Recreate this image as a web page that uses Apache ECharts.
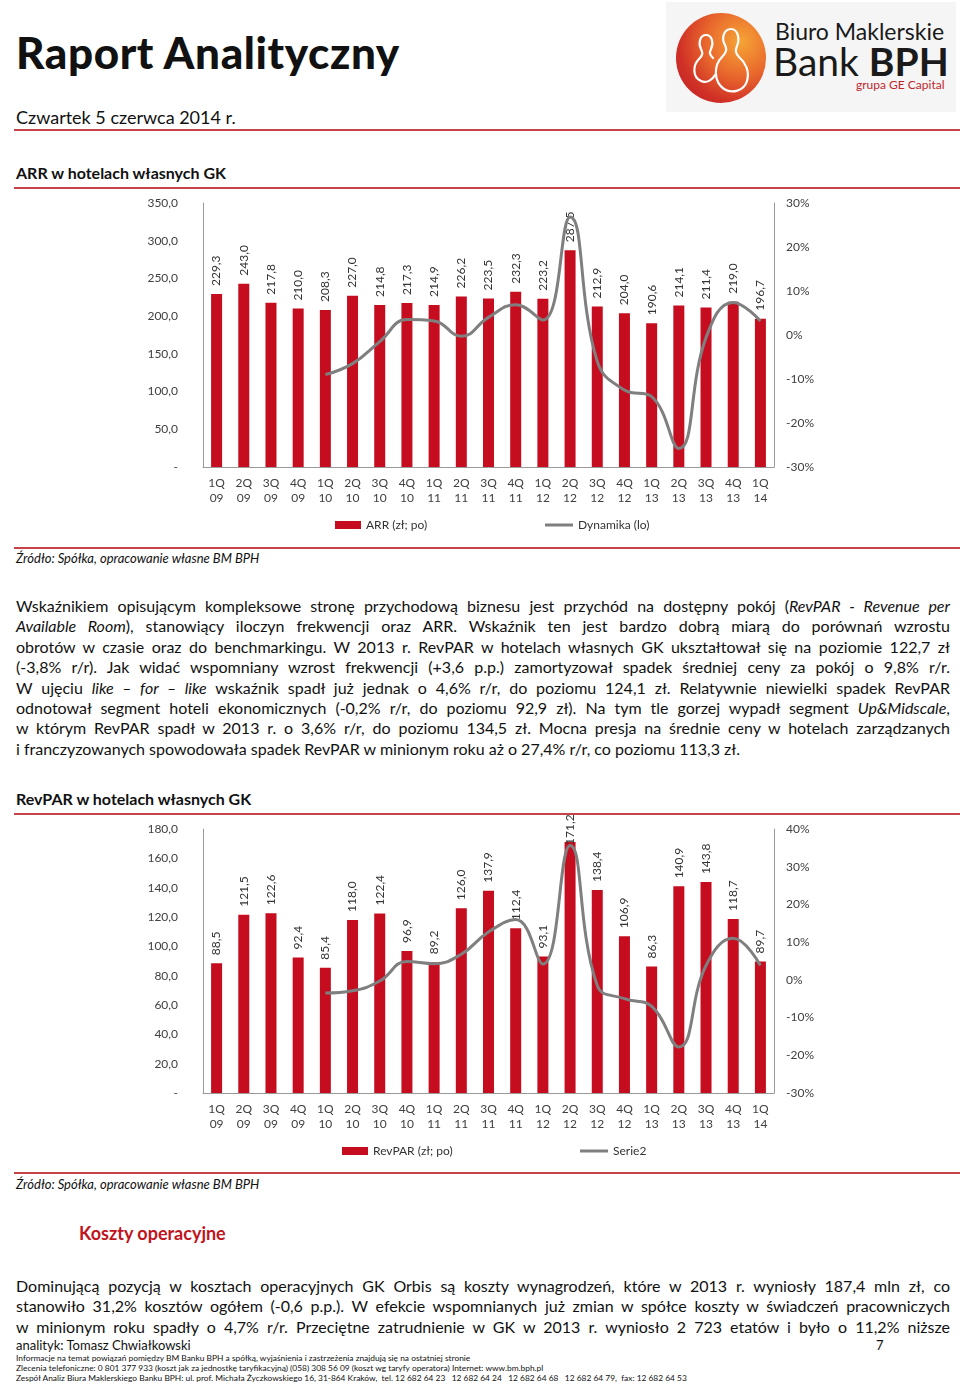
<!DOCTYPE html>
<html lang="pl">
<head>
<meta charset="utf-8">
<script src="https://cdn.jsdelivr.net/npm/echarts@6/dist/echarts.min.js"></script>
<style>
  html, body { margin:0; padding:0; background:#fff; }
  body { width:960px; height:1385px; position:relative; overflow:hidden; font-family: Lato, "Noto Sans", sans-serif; color:#111; }
  .abs { position:absolute; white-space:nowrap; }
  .rule { position:absolute; left:14px; right:0; height:2px; background:#c8424a; }
  .jl { display:block; text-align:justify; text-align-last:justify; white-space:nowrap; }
  .ll { display:block; text-align:left; white-space:nowrap; }
  .para { position:absolute; left:16px; width:934px; font-size:16px; line-height:20.4px; color:#111; }
  .foot { position:absolute; left:16px; font-size:8.4px; line-height:10px; white-space:nowrap; }
</style>
</head>
<body>
<!-- header -->
<div class="abs" style="left:16px; top:25px; font-size:44px; line-height:54px; font-weight:900; color:#111; letter-spacing:0.6px;">Raport Analityczny</div>
<div class="abs" style="left:16px; top:105px; font-size:18px; line-height:24px; color:#111;">Czwartek 5 czerwca 2014 r.</div>
<div class="rule" style="top:129px;"></div>

<!-- logo -->
<div class="abs" style="left:666px; top:2px; width:290px; height:110px; background:#f5f5f5;"></div>
<div class="abs" style="left:676px; top:13px; width:90px; height:90px; border-radius:50%; background: radial-gradient(circle at 72% 32%, #f6a536 0%, #e8662c 40%, #cf2f26 70%, #b71f22 100%);"></div>
<svg class="abs" style="left:676px; top:13px;" width="90" height="90" viewBox="0 0 90 90">
  <path d="M30 22 c-6 0 -8 8 -5 14 c2 4 2 6 -2 10 c-6 6 -7 18 2 22 c6 3 12 -2 14 -6" fill="none" stroke="#fff" stroke-width="2.2" stroke-linecap="round"/>
  <path d="M30 22 c6 0 8 8 5 14 c-2 4 -1 6 2 9" fill="none" stroke="#fff" stroke-width="2.2" stroke-linecap="round"/>
  <path d="M55 16 c-7 0 -10 9 -6 16 c2 4 2 7 -3 12 c-8 8 -9 24 2 32 c8 5 20 2 23 -8 c3 -10 -2 -19 -8 -24 c-4 -4 -4 -7 -2 -11 c3 -7 1 -17 -6 -17 z" fill="none" stroke="#fff" stroke-width="2.2" stroke-linejoin="round"/>
</svg>
<div class="abs" style="left:775px; top:17px; font-size:23px; line-height:28px; color:#1a1a1a;">Biuro Maklerskie</div>
<div class="abs" style="left:773px; top:38px; font-size:39px; line-height:46px; color:#1a1a1a;">Bank <b>BPH</b></div>
<div class="abs" style="left:856px; top:77px; font-size:12px; line-height:15px; color:#c0272d;">grupa GE Capital</div>

<!-- chart 1 -->
<div class="abs" style="left:16px; top:163px; font-size:16px; line-height:20px; font-weight:700;">ARR w hotelach własnych GK</div>
<div class="rule" style="top:187px;"></div>
<div id="chart1" class="abs" style="left:0; top:189px; width:960px; height:358px;"></div>
<div class="rule" style="top:547px;"></div>
<div class="abs" style="left:16px; top:549px; font-size:13px; line-height:18px; font-style:italic;">Źródło: Spółka, opracowanie własne BM BPH</div>

<!-- paragraph 1 -->
<div class="para" style="top:596px;">
  <span class="jl">Wskaźnikiem opisującym kompleksowe stronę przychodową biznesu jest przychód na dostępny pokój (<i>RevPAR - Revenue per</i></span>
  <span class="jl"><i>Available Room</i>), stanowiący iloczyn frekwencji oraz ARR. Wskaźnik ten jest bardzo dobrą miarą do porównań wzrostu</span>
  <span class="jl">obrotów w czasie oraz do benchmarkingu. W 2013 r. RevPAR w hotelach własnych GK ukształtował się na poziomie 122,7 zł</span>
  <span class="jl">(-3,8% r/r). Jak widać wspomniany wzrost frekwencji (+3,6 p.p.) zamortyzował spadek średniej ceny za pokój o 9,8% r/r.</span>
  <span class="jl">W ujęciu <i>like – for – like</i> wskaźnik spadł już jednak o 4,6% r/r, do poziomu 124,1 zł. Relatywnie niewielki spadek RevPAR</span>
  <span class="jl">odnotował segment hoteli ekonomicznych (-0,2% r/r, do poziomu 92,9 zł). Na tym tle gorzej wypadł segment <i>Up&amp;Midscale</i>,</span>
  <span class="jl">w którym RevPAR spadł w 2013 r. o 3,6% r/r, do poziomu 134,5 zł. Mocna presja na średnie ceny w hotelach zarządzanych</span>
  <span class="ll">i franczyzowanych spowodowała spadek RevPAR w minionym roku aż o 27,4% r/r, co poziomu 113,3 zł.</span>
</div>

<!-- chart 2 -->
<div class="abs" style="left:16px; top:789px; font-size:16px; line-height:20px; font-weight:700;">RevPAR w hotelach własnych GK</div>
<div class="rule" style="top:813px;"></div>
<div id="chart2" class="abs" style="left:0; top:815px; width:960px; height:357px;"></div>
<div class="rule" style="top:1172px;"></div>
<div class="abs" style="left:16px; top:1175px; font-size:13px; line-height:18px; font-style:italic;">Źródło: Spółka, opracowanie własne BM BPH</div>

<div class="abs" style="left:79px; top:1221px; font-size:18px; line-height:24px; font-weight:700; color:#c0141e;">Koszty operacyjne</div>

<div class="para" style="top:1276px;">
  <span class="jl">Dominującą pozycją w kosztach operacyjnych GK Orbis są koszty wynagrodzeń, które w 2013 r. wyniosły 187,4 mln zł, co</span>
  <span class="jl">stanowiło 31,2% kosztów ogółem (-0,6 p.p.). W efekcie wspomnianych już zmian w spółce koszty w świadczeń pracowniczych</span>
  <span class="jl">w minionym roku spadły o 4,7% r/r. Przeciętne zatrudnienie w GK w 2013 r. wyniosło 2 723 etatów i było o 11,2% niższe</span>
</div>

<div class="abs" style="left:16px; top:1337px; font-size:13px; line-height:16px;">analityk: Tomasz Chwiałkowski</div>
<div class="abs" style="left:876px; top:1337px; font-size:13px; line-height:16px;">7</div>
<div class="foot" style="top:1353px;">Informacje na temat powiązań pomiędzy BM Banku BPH a spółką, wyjaśnienia i zastrzeżenia znajdują się na ostatniej stronie</div>
<div class="foot" style="top:1363px;">Zlecenia telefoniczne: 0 801 377 933 (koszt jak za jednostkę taryfikacyjną) (058) 308 56 09 (koszt wg taryfy operatora) Internet: www.bm.bph.pl</div>
<div class="foot" style="top:1373px;">Zespół Analiz Biura Maklerskiego Banku BPH: ul. prof. Michała Życzkowskiego 16, 31-864 Kraków, &nbsp;tel. 12 682 64 23&nbsp;&nbsp; 12 682 64 24&nbsp;&nbsp; 12 682 64 68&nbsp;&nbsp; 12 682 64 79, &nbsp;fax: 12 682 64 53</div>

<script>
// ---- data ----
const categories = ['1Q\n09','2Q\n09','3Q\n09','4Q\n09','1Q\n10','2Q\n10','3Q\n10','4Q\n10','1Q\n11','2Q\n11','3Q\n11','4Q\n11','1Q\n12','2Q\n12','3Q\n12','4Q\n12','1Q\n13','2Q\n13','3Q\n13','4Q\n13','1Q\n14'];
const arrValues = [229.3, 243.0, 217.8, 210.0, 208.3, 227.0, 214.8, 217.3, 214.9, 226.2, 223.5, 232.3, 223.2, 287.5, 212.9, 204.0, 190.6, 214.1, 211.4, 219.0, 196.7];
const arrDynamics = [null, null, null, null, -9.0, -6.5, -1.5, 3.5, 3.2, -0.3, 4.0, 6.9, 3.4, 26.8, -6.0, -12.5, -14.0, -25.8, -0.6, 7.4, 3.2];
const revparValues = [88.5, 121.5, 122.6, 92.4, 85.4, 118.0, 122.4, 96.9, 89.2, 126.0, 137.9, 112.4, 93.1, 171.2, 138.4, 106.9, 86.3, 140.9, 143.8, 118.7, 89.7];
const revparDynamics = [null, null, null, null, -3.5, -2.9, -0.3, 4.9, 4.3, 6.8, 12.7, 16.0, 4.2, 35.6, -1.5, -5.0, -7.0, -17.8, 3.8, 11.0, 3.8];

const FONT = 'Lato, "Noto Sans", sans-serif';
const RED = '#c50d1f';
const GREY_LINE = '#7f7f7f';
const AXIS = '#9a9a9a';
const TXT = '#404040';

function num(v) { return v === 0 ? '-' : v.toFixed(1).replace('.', ','); }

function buildOption(cfg) {
  const maxV = Math.max(...cfg.bars);
  // labels that would run past the top of the plot are tucked down onto the bar (as in the original)
  const barData = cfg.bars.map(v => (cfg.tuckMax && v === maxV) ? { value: v, label: { distance: -3 } } : v);
  return {
    animation: false,
    textStyle: { fontFamily: FONT },
    grid: { left: 203, right: 186, top: cfg.top, height: 264 },
    legend: [
      { data: [cfg.barName], left: cfg.leg1, top: cfg.legTop, icon: 'rect', itemWidth: 26, itemHeight: 8, itemGap: 4,
        textStyle: { fontFamily: FONT, fontSize: 12, color: '#333' } },
      { data: [cfg.lineName], left: cfg.leg2, top: cfg.legTop, icon: 'rect', itemWidth: 28, itemHeight: 3, itemGap: 4,
        textStyle: { fontFamily: FONT, fontSize: 12, color: '#333' } }
    ],
    xAxis: {
      type: 'category', data: categories,
      axisLine: { show: true, lineStyle: { color: AXIS, width: 1 } },
      axisTick: { show: false },
      axisLabel: { fontFamily: FONT, fontSize: 12, color: TXT, lineHeight: 15, margin: 9, interval: 0 }
    },
    yAxis: [
      { type: 'value', min: 0, max: cfg.lmax, interval: cfg.lint, splitLine: { show: false },
        axisLine: { show: true, lineStyle: { color: AXIS } }, axisTick: { show: false },
        axisLabel: { fontFamily: FONT, fontSize: 12, color: TXT, margin: 25, formatter: num } },
      { type: 'value', min: -30, max: cfg.rmax, interval: 10, splitLine: { show: false },
        axisLine: { show: true, lineStyle: { color: AXIS } }, axisTick: { show: false },
        axisLabel: { fontFamily: FONT, fontSize: 12, color: TXT, margin: 12, formatter: '{value}%' } }
    ],
    series: [
      { name: cfg.barName, type: 'bar', data: barData, barWidth: 11, yAxisIndex: 0,
        itemStyle: { color: RED },
        label: { show: true, position: 'top', rotate: 90, align: 'left', verticalAlign: 'middle', distance: 8,
          fontFamily: FONT, fontSize: 12, color: '#333', formatter: p => num(p.value) } },
      { name: cfg.lineName, type: 'line', data: cfg.line, yAxisIndex: 1, smooth: 0.45, showSymbol: false, symbol: 'none',
        lineStyle: { color: GREY_LINE, width: 3 }, itemStyle: { color: GREY_LINE }, z: 5 }
    ]
  };
}

const c1 = echarts.init(document.getElementById('chart1'), null, { renderer: 'canvas' });
c1.setOption(buildOption({ top: 14, barName: 'ARR (zł; po)', lineName: 'Dynamika (lo)', leg1: 330, leg2: 540, legTop: 325,
  lmax: 350, lint: 50, rmax: 30, bars: arrValues, line: arrDynamics, tuckMax: false }));

const c2 = echarts.init(document.getElementById('chart2'), null, { renderer: 'canvas' });
c2.setOption(buildOption({ top: 14, barName: 'RevPAR (zł; po)', lineName: 'Serie2', leg1: 337, leg2: 575, legTop: 325,
  lmax: 180, lint: 20, rmax: 40, bars: revparValues, line: revparDynamics, tuckMax: true }));
</script>
</body>
</html>
